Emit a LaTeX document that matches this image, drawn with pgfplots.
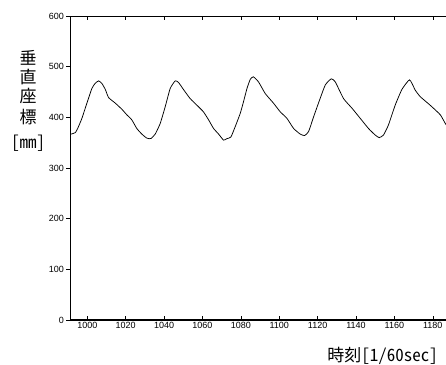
\documentclass[border=0pt]{standalone}
\usepackage{pgfplots}
\pgfplotsset{compat=1.18}
\usepackage{fontspec}
\setmainfont{Liberation Sans}
\newfontfamily\jp[RawFeature=+hwid]{Noto Sans CJK JP}
\begin{document}
\begin{tikzpicture}[x=1pt,y=1pt]
\begin{axis}[
  at={(70pt,44pt)}, anchor=south west,
  scale only axis, width=382pt, height=304pt,
  xmin=991, xmax=1190, ymin=0, ymax=600,
  xtick={1000,1020,...,1180}, ytick={0,100,...,600},
  xtick align=inside, xtick pos=both,
  ytick align=outside, ytick pos=left,
  major tick length=4pt,
  tick style={black, line width=0.5pt},
  axis line style={line width=0.6pt},
  /pgf/number format/assume math mode=true,
  /pgf/number format/set thousands separator={},
  tick label style={font=\fontsize{9}{10}\selectfont},
  xticklabel style={yshift=1pt},
  yticklabel style={xshift=1.5pt},
]
\addplot[black, line width=0.75pt, smooth, tension=0.3] coordinates {
(991,367)(991.7,367)(993.8,370)(995,378)(997.2,398)(999.8,428)(1002.4,457)(1004.1,467)(1005.9,472)
(1007.6,467)(1009.4,455)(1011.1,439)(1014.6,428)(1018,416)(1020.6,405)(1023.2,395)(1025.8,378)
(1028.4,367)(1031,359)(1033.1,358)(1035.4,367)(1038,388)(1040.6,421)(1043.2,457)(1045.8,472)
(1047.5,469)(1050.1,455)(1053.6,437)(1057.1,424)(1060.5,411)(1063.2,395)(1065.8,378)(1068.4,367)
(1071,355)(1072.7,358)(1074.8,361)(1077.1,382)(1079.7,408)(1081.4,431)(1083.2,457)(1084.9,475)
(1086.5,480)(1089.2,470)(1092.7,447)(1097,428)(1100.5,411)(1104,398)(1107.5,378)(1110.9,367)
(1113.2,364)(1115.3,372)(1117.9,401)(1121,434)(1124,464)(1127.1,476)(1129.2,470)(1133.5,437)
(1137.9,418)(1142.2,398)(1146.5,378)(1150,365)(1152.1,360)(1154.3,365)(1156.9,385)(1160.4,424)
(1163.9,455)(1167.9,474)(1170.8,454)(1173.4,441)(1178.6,424)(1183.9,405)(1187,385)(1190,378)
};
\draw[line width=1.5pt] (rel axis cs:0,1) -- (rel axis cs:0,0) -- (rel axis cs:1,0);
\end{axis}
\node[font=\jp\fontsize{17}{17}\selectfont] at (28pt,306.5pt) {垂};
\node[font=\jp\fontsize{17}{17}\selectfont] at (28pt,287pt) {直};
\node[font=\jp\fontsize{17}{17}\selectfont] at (28pt,267.5pt) {座};
\node[font=\jp\fontsize{17}{17}\selectfont] at (28pt,247pt) {標};
\node[font=\jp\fontsize{17}{17}\selectfont] at (28pt,221pt) {[mm]};
\node[font=\jp\fontsize{17}{17}\selectfont, anchor=east, inner sep=0pt] at (438pt,8pt) {時刻[1/60sec]};
\pgfresetboundingbox
\useasboundingbox (0,0) rectangle (446pt,364pt);
\end{tikzpicture}
\end{document}
